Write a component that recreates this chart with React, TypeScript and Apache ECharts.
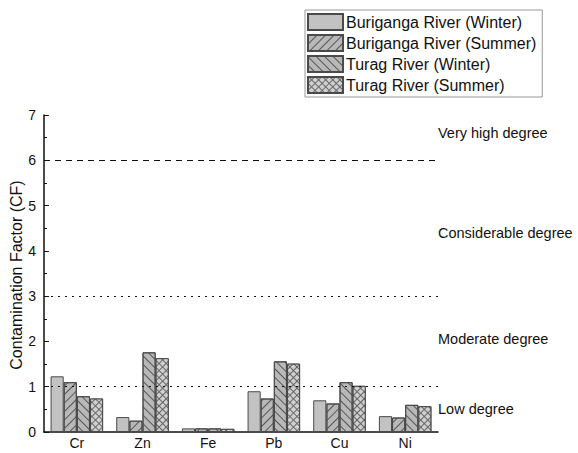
import React, { useEffect, useRef } from "react";
import * as echarts from "echarts";

const categories = ["Cr", "Zn", "Fe", "Pb", "Cu", "Ni"];
const seriesNames = [
  "Buriganga River (Winter)",
  "Buriganga River (Summer)",
  "Turag River (Winter)",
  "Turag River (Summer)",
];
const buriWinter = [1.23, 0.33, 0.08, 0.9, 0.7, 0.35];
const buriSummer = [1.1, 0.25, 0.08, 0.74, 0.63, 0.32];
const turagWinter = [0.79, 1.76, 0.08, 1.56, 1.1, 0.6];
const turagSummer = [0.74, 1.63, 0.07, 1.51, 1.02, 0.57];
const yTicks = [0, 1, 2, 3, 4, 5, 6, 7];
const degreeLabels = [
  { text: "Very high degree", y: 6.6 },
  { text: "Considerable degree", y: 4.4 },
  { text: "Moderate degree", y: 2.05 },
  { text: "Low degree", y: 0.5 },
];

const FONT = "'Liberation Sans', Arial, sans-serif";
const FILL = "#c2c2c2";
const EDGE = "#4a4a4a";

export default function App() {
  const ref = useRef<HTMLDivElement>(null);
  useEffect(() => {
    if (!ref.current) return;
    const chart = echarts.init(ref.current, undefined, { renderer: "svg" });
    const gridLeft = 44;
    const gridTop = 115;
    const gridBottomPx = 432;
    const hatch = (rot: number) => ({
      symbol: "rect",
      symbolSize: 1,
      color: "#555",
      dashArrayX: [1, 0],
      dashArrayY: [1, 5],
      rotation: rot,
    });
    const styles = [
      { color: FILL, borderColor: EDGE, borderWidth: 1, borderRadius: 0 },
      { color: "#b8b8b8", borderColor: EDGE, borderWidth: 1, borderRadius: 0, decal: hatch(-Math.PI / 4) },
      { color: "#b8b8b8", borderColor: EDGE, borderWidth: 1, borderRadius: 0, decal: hatch(Math.PI / 4) },
      {
        color: "#666",
        borderColor: EDGE,
        borderWidth: 1,
        borderRadius: 0,
        decal: {
          symbol: "rect",
          symbolSize: 1,
          color: "#cfcfcf",
          dashArrayX: [4, 1],
          dashArrayY: [4, 1],
          rotation: Math.PI / 4,
        },
      },
    ];
    const datas = [buriWinter, buriSummer, turagWinter, turagSummer];
    const series: any[] = datas.map((d, i) => ({
      type: "bar",
      name: seriesNames[i],
      data: d,
      legendIcon: "rect",
      barGap: "0%",
      barCategoryGap: "20%",
      itemStyle: styles[i],
    }));
    series[0].markLine = {
      symbol: "none",
      silent: true,
      label: { show: false },
      data: [
        { yAxis: 6, lineStyle: { type: [6, 5], color: "#111", width: 1 } },
        { yAxis: 3, lineStyle: { type: [2, 5], color: "#111", width: 1 } },
        { yAxis: 1, lineStyle: { type: [2, 5], color: "#111", width: 1 } },
      ],
    };
    const unit = (gridBottomPx - gridTop) / 7;
    chart.setOption({
      animation: false,
      textStyle: { fontFamily: FONT },
      grid: { left: gridLeft, top: gridTop, width: 394, height: gridBottomPx - gridTop },
      legend: {
        orient: "vertical",
        left: 305,
        top: 10,
        icon: "rect",
        itemWidth: 35,
        itemHeight: 16,
        itemGap: 3,
        padding: [3, 6, 3, 2],
        borderColor: "#999",
        borderWidth: 1,
        textStyle: { fontSize: 16, color: "#111", fontFamily: FONT, padding: [0, 0, 0, -2] },
        data: seriesNames,
      },
      xAxis: {
        type: "category",
        data: categories,
        axisLine: { lineStyle: { color: "#111", width: 1.5 } },
        axisTick: { inside: true, length: 4, lineStyle: { color: "#111" } },
        axisLabel: { fontSize: 14, color: "#111", margin: 4, fontFamily: FONT },
      },
      yAxis: {
        type: "value",
        min: 0,
        max: 7,
        interval: 1,
        axisLine: { show: true, lineStyle: { color: "#111", width: 1.5 } },
        axisTick: { show: true, inside: true, length: 5, lineStyle: { color: "#111" } },
        minorTick: { show: true, splitNumber: 2, length: 3, lineStyle: { color: "#111" } },
        splitLine: { show: false },
        axisLabel: {
          fontSize: 14,
          color: "#111",
          margin: 8,
          fontFamily: FONT,
          formatter: (v: number) => (yTicks.includes(v) ? String(v) : ""),
        },
      },
      graphic: [
        {
          type: "text",
          x: 16,
          y: 275,
          rotation: Math.PI / 2,
          style: {
            text: "Contamination Factor (CF)",
            fontSize: 16,
            fontFamily: FONT,
            fill: "#111",
            align: "center",
            verticalAlign: "middle",
          },
        },
        ...degreeLabels.map((d) => ({
          type: "text",
          x: 438,
          y: gridBottomPx - d.y * unit,
          style: {
            text: d.text,
            fontSize: 14.5,
            fontFamily: FONT,
            fill: "#111",
            align: "left",
            verticalAlign: "middle",
          },
        })),
      ],
      series,
    });
    return () => chart.dispose();
  }, []);
  return (
    <div
      ref={ref}
      style={{ position: "absolute", left: 0, top: 0, width: 578, height: 453 }}
    />
  );
}
